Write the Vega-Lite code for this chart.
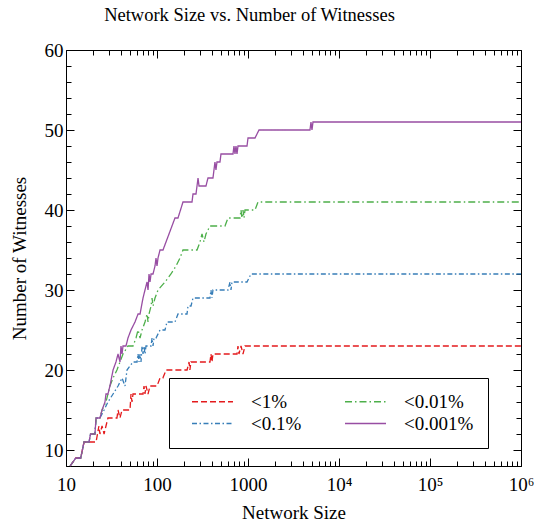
{
  "$schema": "https://vega.github.io/schema/vega-lite/v6.json",
  "autosize": "none",
  "width": 455,
  "height": 416,
  "padding": {"left": 66, "top": 50, "right": 13, "bottom": 55},
  "background": "white",
  "title": {"text": "Network Size vs. Number of Witnesses", "font": "'Liberation Serif', 'Times New Roman', Times, serif", "fontSize": 18.5, "fontWeight": "normal", "color": "black", "anchor": "middle", "dx": -44, "offset": 17},
  "config": {
    "view": {"stroke": null},
    "axis": {"grid": false, "domainColor": "black", "domainWidth": 1, "tickColor": "black", "tickWidth": 1, "labelFont": "'Liberation Serif', 'Times New Roman', Times, serif", "labelFontSize": 19, "labelColor": "black", "titleFont": "'Liberation Serif', 'Times New Roman', Times, serif", "titleFontSize": 19, "titleFontWeight": "normal", "titleColor": "black", "labelOverlap": false, "labelBound": false, "labelFlush": false}
  },
  "datasets": {
    "pts": [
      {"s": "<1%", "n": 11.1, "w": 8}, {"s": "<1%", "n": 12.8, "w": 9}, {"s": "<1%", "n": 14.5, "w": 9}, {"s": "<1%", "n": 15.8, "w": 11}, {"s": "<1%", "n": 21.4, "w": 11}, {"s": "<1%", "n": 23, "w": 13}, {"s": "<1%", "n": 23.6, "w": 12}, {"s": "<1%", "n": 24.9, "w": 13}, {"s": "<1%", "n": 26.2, "w": 12}, {"s": "<1%", "n": 27.5, "w": 13}, {"s": "<1%", "n": 28.9, "w": 14}, {"s": "<1%", "n": 36.3, "w": 14}, {"s": "<1%", "n": 37.3, "w": 15}, {"s": "<1%", "n": 39.2, "w": 14}, {"s": "<1%", "n": 41.3, "w": 15}, {"s": "<1%", "n": 50.5, "w": 15}, {"s": "<1%", "n": 51.8, "w": 17}, {"s": "<1%", "n": 53.1, "w": 16}, {"s": "<1%", "n": 54.5, "w": 17}, {"s": "<1%", "n": 70.2, "w": 17}, {"s": "<1%", "n": 72, "w": 18}, {"s": "<1%", "n": 73.8, "w": 17}, {"s": "<1%", "n": 75.7, "w": 18}, {"s": "<1%", "n": 79.7, "w": 17}, {"s": "<1%", "n": 83.8, "w": 18}, {"s": "<1%", "n": 100, "w": 18}, {"s": "<1%", "n": 108, "w": 19}, {"s": "<1%", "n": 116, "w": 19}, {"s": "<1%", "n": 126, "w": 20}, {"s": "<1%", "n": 214, "w": 20}, {"s": "<1%", "n": 225, "w": 21}, {"s": "<1%", "n": 230, "w": 20}, {"s": "<1%", "n": 236, "w": 21}, {"s": "<1%", "n": 382, "w": 21}, {"s": "<1%", "n": 392, "w": 22}, {"s": "<1%", "n": 402, "w": 21}, {"s": "<1%", "n": 412, "w": 22}, {"s": "<1%", "n": 757, "w": 22}, {"s": "<1%", "n": 776, "w": 23}, {"s": "<1%", "n": 796, "w": 22}, {"s": "<1%", "n": 838, "w": 23}, {"s": "<1%", "n": 881, "w": 22}, {"s": "<1%", "n": 927, "w": 23}, {"s": "<1%", "n": 1000000, "w": 23},

      {"s": "<0.1%", "n": 11.1, "w": 8}, {"s": "<0.1%", "n": 12.8, "w": 9}, {"s": "<0.1%", "n": 14.5, "w": 9}, {"s": "<0.1%", "n": 15.8, "w": 11}, {"s": "<0.1%", "n": 17.9, "w": 11}, {"s": "<0.1%", "n": 18.6, "w": 12}, {"s": "<0.1%", "n": 20.8, "w": 12}, {"s": "<0.1%", "n": 21.4, "w": 14}, {"s": "<0.1%", "n": 23.6, "w": 14}, {"s": "<0.1%", "n": 26.2, "w": 15}, {"s": "<0.1%", "n": 28.9, "w": 16}, {"s": "<0.1%", "n": 32.9, "w": 17}, {"s": "<0.1%", "n": 37.3, "w": 18}, {"s": "<0.1%", "n": 41.3, "w": 19}, {"s": "<0.1%", "n": 44.5, "w": 18}, {"s": "<0.1%", "n": 46.8, "w": 20}, {"s": "<0.1%", "n": 54.5, "w": 21}, {"s": "<0.1%", "n": 60.3, "w": 21}, {"s": "<0.1%", "n": 61.9, "w": 22}, {"s": "<0.1%", "n": 63.4, "w": 21}, {"s": "<0.1%", "n": 65.1, "w": 22}, {"s": "<0.1%", "n": 66.7, "w": 21}, {"s": "<0.1%", "n": 68.5, "w": 23}, {"s": "<0.1%", "n": 70.2, "w": 22}, {"s": "<0.1%", "n": 72, "w": 23}, {"s": "<0.1%", "n": 73.8, "w": 22}, {"s": "<0.1%", "n": 75.7, "w": 23}, {"s": "<0.1%", "n": 86, "w": 23}, {"s": "<0.1%", "n": 88.2, "w": 24}, {"s": "<0.1%", "n": 90.4, "w": 23}, {"s": "<0.1%", "n": 92.7, "w": 24}, {"s": "<0.1%", "n": 97.5, "w": 24}, {"s": "<0.1%", "n": 107.9, "w": 25}, {"s": "<0.1%", "n": 122.4, "w": 25}, {"s": "<0.1%", "n": 128.8, "w": 26}, {"s": "<0.1%", "n": 157.6, "w": 26}, {"s": "<0.1%", "n": 170.1, "w": 27}, {"s": "<0.1%", "n": 213.6, "w": 27}, {"s": "<0.1%", "n": 219.1, "w": 28}, {"s": "<0.1%", "n": 236.4, "w": 28}, {"s": "<0.1%", "n": 248.7, "w": 29}, {"s": "<0.1%", "n": 382, "w": 29}, {"s": "<0.1%", "n": 391.7, "w": 30}, {"s": "<0.1%", "n": 401.8, "w": 29}, {"s": "<0.1%", "n": 412.1, "w": 30}, {"s": "<0.1%", "n": 602.6, "w": 30}, {"s": "<0.1%", "n": 633.9, "w": 31}, {"s": "<0.1%", "n": 650.1, "w": 30}, {"s": "<0.1%", "n": 666.8, "w": 31}, {"s": "<0.1%", "n": 975.2, "w": 31}, {"s": "<0.1%", "n": 1079, "w": 32}, {"s": "<0.1%", "n": 1000000, "w": 32},

      {"s": "<0.01%", "n": 11.1, "w": 8}, {"s": "<0.01%", "n": 12.8, "w": 9}, {"s": "<0.01%", "n": 14.5, "w": 9}, {"s": "<0.01%", "n": 15.8, "w": 11}, {"s": "<0.01%", "n": 17.9, "w": 11}, {"s": "<0.01%", "n": 18.6, "w": 12}, {"s": "<0.01%", "n": 20.8, "w": 12}, {"s": "<0.01%", "n": 21.4, "w": 14}, {"s": "<0.01%", "n": 23.6, "w": 14}, {"s": "<0.01%", "n": 24.9, "w": 15}, {"s": "<0.01%", "n": 27.5, "w": 16}, {"s": "<0.01%", "n": 30.4, "w": 18}, {"s": "<0.01%", "n": 32.9, "w": 19}, {"s": "<0.01%", "n": 36.3, "w": 20}, {"s": "<0.01%", "n": 39.2, "w": 21}, {"s": "<0.01%", "n": 42.3, "w": 22}, {"s": "<0.01%", "n": 48, "w": 23}, {"s": "<0.01%", "n": 54.5, "w": 23}, {"s": "<0.01%", "n": 58.8, "w": 24}, {"s": "<0.01%", "n": 61.9, "w": 25}, {"s": "<0.01%", "n": 65.1, "w": 24}, {"s": "<0.01%", "n": 68.5, "w": 25}, {"s": "<0.01%", "n": 73.8, "w": 26}, {"s": "<0.01%", "n": 77.7, "w": 27}, {"s": "<0.01%", "n": 79.7, "w": 26}, {"s": "<0.01%", "n": 81.7, "w": 27}, {"s": "<0.01%", "n": 86, "w": 28}, {"s": "<0.01%", "n": 88.2, "w": 29}, {"s": "<0.01%", "n": 90.4, "w": 28}, {"s": "<0.01%", "n": 95.1, "w": 29}, {"s": "<0.01%", "n": 102.6, "w": 30}, {"s": "<0.01%", "n": 122.4, "w": 31}, {"s": "<0.01%", "n": 142.4, "w": 32}, {"s": "<0.01%", "n": 161.7, "w": 33}, {"s": "<0.01%", "n": 178.9, "w": 34}, {"s": "<0.01%", "n": 193, "w": 35}, {"s": "<0.01%", "n": 275.2, "w": 35}, {"s": "<0.01%", "n": 297, "w": 36}, {"s": "<0.01%", "n": 312.4, "w": 37}, {"s": "<0.01%", "n": 328.2, "w": 36}, {"s": "<0.01%", "n": 345.3, "w": 37}, {"s": "<0.01%", "n": 382, "w": 38}, {"s": "<0.01%", "n": 558.5, "w": 38}, {"s": "<0.01%", "n": 602.6, "w": 39}, {"s": "<0.01%", "n": 816.7, "w": 39}, {"s": "<0.01%", "n": 837.6, "w": 40}, {"s": "<0.01%", "n": 859.1, "w": 39}, {"s": "<0.01%", "n": 881.2, "w": 40}, {"s": "<0.01%", "n": 903.8, "w": 39}, {"s": "<0.01%", "n": 926.9, "w": 40}, {"s": "<0.01%", "n": 1194, "w": 40}, {"s": "<0.01%", "n": 1288, "w": 41}, {"s": "<0.01%", "n": 1000000, "w": 41},

      {"s": "<0.001%", "n": 11.1, "w": 8}, {"s": "<0.001%", "n": 12.8, "w": 9}, {"s": "<0.001%", "n": 14.5, "w": 9}, {"s": "<0.001%", "n": 15.8, "w": 11}, {"s": "<0.001%", "n": 17.9, "w": 11}, {"s": "<0.001%", "n": 18.6, "w": 12}, {"s": "<0.001%", "n": 20.8, "w": 12}, {"s": "<0.001%", "n": 21.4, "w": 14}, {"s": "<0.001%", "n": 23.6, "w": 14}, {"s": "<0.001%", "n": 24.9, "w": 15}, {"s": "<0.001%", "n": 26.8, "w": 16}, {"s": "<0.001%", "n": 27.5, "w": 17}, {"s": "<0.001%", "n": 28.9, "w": 17}, {"s": "<0.001%", "n": 30.4, "w": 18}, {"s": "<0.001%", "n": 32.9, "w": 20}, {"s": "<0.001%", "n": 35.4, "w": 21}, {"s": "<0.001%", "n": 37.3, "w": 22}, {"s": "<0.001%", "n": 39.2, "w": 21}, {"s": "<0.001%", "n": 40.2, "w": 23}, {"s": "<0.001%", "n": 41.3, "w": 22}, {"s": "<0.001%", "n": 42.3, "w": 23}, {"s": "<0.001%", "n": 45.6, "w": 23}, {"s": "<0.001%", "n": 48, "w": 24}, {"s": "<0.001%", "n": 51.8, "w": 25}, {"s": "<0.001%", "n": 57.3, "w": 26}, {"s": "<0.001%", "n": 61.9, "w": 27}, {"s": "<0.001%", "n": 65.1, "w": 27}, {"s": "<0.001%", "n": 70.2, "w": 29}, {"s": "<0.001%", "n": 73.8, "w": 30}, {"s": "<0.001%", "n": 77.7, "w": 31}, {"s": "<0.001%", "n": 79.7, "w": 30}, {"s": "<0.001%", "n": 81.7, "w": 32}, {"s": "<0.001%", "n": 83.8, "w": 31}, {"s": "<0.001%", "n": 86, "w": 32}, {"s": "<0.001%", "n": 90.4, "w": 32}, {"s": "<0.001%", "n": 95.1, "w": 33}, {"s": "<0.001%", "n": 97.5, "w": 34}, {"s": "<0.001%", "n": 100, "w": 33}, {"s": "<0.001%", "n": 102.6, "w": 34}, {"s": "<0.001%", "n": 107.9, "w": 35}, {"s": "<0.001%", "n": 116.4, "w": 35}, {"s": "<0.001%", "n": 157.6, "w": 39}, {"s": "<0.001%", "n": 170.1, "w": 39}, {"s": "<0.001%", "n": 193, "w": 41}, {"s": "<0.001%", "n": 242.5, "w": 41}, {"s": "<0.001%", "n": 248.7, "w": 42}, {"s": "<0.001%", "n": 268.3, "w": 42}, {"s": "<0.001%", "n": 275.2, "w": 43}, {"s": "<0.001%", "n": 282.3, "w": 44}, {"s": "<0.001%", "n": 289.5, "w": 43}, {"s": "<0.001%", "n": 345.3, "w": 43}, {"s": "<0.001%", "n": 363.2, "w": 44}, {"s": "<0.001%", "n": 412.1, "w": 44}, {"s": "<0.001%", "n": 422.7, "w": 45}, {"s": "<0.001%", "n": 433.6, "w": 46}, {"s": "<0.001%", "n": 444.6, "w": 45}, {"s": "<0.001%", "n": 456, "w": 46}, {"s": "<0.001%", "n": 492, "w": 46}, {"s": "<0.001%", "n": 504.7, "w": 47}, {"s": "<0.001%", "n": 683.9, "w": 47}, {"s": "<0.001%", "n": 701.5, "w": 48}, {"s": "<0.001%", "n": 719.5, "w": 47}, {"s": "<0.001%", "n": 737.9, "w": 48}, {"s": "<0.001%", "n": 756.9, "w": 47}, {"s": "<0.001%", "n": 776.3, "w": 48}, {"s": "<0.001%", "n": 975.2, "w": 48}, {"s": "<0.001%", "n": 1000, "w": 49}, {"s": "<0.001%", "n": 1194, "w": 49}, {"s": "<0.001%", "n": 1321, "w": 50}, {"s": "<0.001%", "n": 4797, "w": 50}, {"s": "<0.001%", "n": 4920, "w": 51}, {"s": "<0.001%", "n": 5047, "w": 50}, {"s": "<0.001%", "n": 5176, "w": 51}, {"s": "<0.001%", "n": 1000000, "w": 51}
    ]
  },
  "data": {"name": "pts"},
  "resolve": {"axis": {"x": "independent", "y": "independent"}},
  "layer": [
    {
      "mark": {"type": "line", "strokeWidth": 1.3, "interpolate": "linear"},
      "encoding": {
        "x": {"field": "n", "type": "quantitative",
          "scale": {"type": "log", "domain": [10, 1000000], "nice": false},
          "axis": {"orient": "bottom", "title": "Network Size", "titlePadding": 6,
            "values": [10,20,30,40,50,60,70,80,90,100,200,300,400,500,600,700,800,900,1000,2000,3000,4000,5000,6000,7000,8000,9000,10000,20000,30000,40000,50000,60000,70000,80000,90000,100000,200000,300000,400000,500000,600000,700000,800000,900000,1000000],
            "labelExpr": "datum.value == 10 ? '10' : datum.value == 100 ? '100' : datum.value == 1000 ? '1000' : datum.value == 10000 ? '10⁴' : datum.value == 100000 ? '10⁵' : datum.value == 1000000 ? '10⁶' : ''",
            "tickSize": {"condition": {"test": "indexof([10,100,1000,10000,100000,1000000], datum.value) >= 0", "value": -8}, "value": -5},
            "labelPadding": 17}},
        "y": {"field": "w", "type": "quantitative",
          "scale": {"domain": [8, 60], "nice": false, "zero": false},
          "axis": {"orient": "left", "title": "Number of Witnesses", "titlePadding": 15,
            "values": [8,10,12,14,16,18,20,22,24,26,28,30,32,34,36,38,40,42,44,46,48,50,52,54,56,58,60],
            "labelExpr": "datum.value % 10 === 0 ? datum.label : ''",
            "tickSize": {"condition": {"test": "datum.value % 10 === 0", "value": -8}, "value": -5},
            "labelPadding": 11}},
        "color": {"field": "s", "type": "nominal",
          "scale": {"domain": ["<1%", "<0.01%", "<0.1%", "<0.001%"], "range": ["#e41a1c", "#4daf4a", "#377eb8", "#984ea3"]},
          "legend": {"title": null, "orient": "none", "legendX": 103, "legendY": 328, "columns": 2, "direction": "horizontal",
            "symbolType": "stroke", "symbolSize": 1681, "symbolStrokeWidth": 1.3, "clipHeight": 19, "symbolOffset": 8,
            "labelFont": "'Liberation Serif', 'Times New Roman', Times, serif", "labelFontSize": 19, "labelColor": "black", "labelOffset": 17,
            "columnPadding": 34, "rowPadding": 2, "padding": 14, "strokeColor": "black", "fillColor": "white"}},
        "strokeDash": {"field": "s", "type": "nominal",
          "scale": {"domain": ["<1%", "<0.01%", "<0.1%", "<0.001%"], "range": [[6, 3], [7, 3, 1.5, 3], [5, 2.5, 1.5, 2.5], [1, 0]]},
          "legend": {"title": null, "orient": "none", "legendX": 103, "legendY": 328, "columns": 2, "direction": "horizontal",
            "symbolType": "stroke", "symbolSize": 1681, "symbolStrokeWidth": 1.3, "clipHeight": 19, "symbolOffset": 8,
            "labelFont": "'Liberation Serif', 'Times New Roman', Times, serif", "labelFontSize": 19, "labelColor": "black", "labelOffset": 17,
            "columnPadding": 34, "rowPadding": 2, "padding": 14, "strokeColor": "black", "fillColor": "white"}}
      }
    },
    {
      "mark": {"type": "line", "strokeOpacity": 0},
      "encoding": {
        "x": {"field": "n", "type": "quantitative",
          "scale": {"type": "log", "domain": [10, 1000000], "nice": false},
          "axis": {"orient": "top", "title": null, "labels": false,
            "values": [10,20,30,40,50,60,70,80,90,100,200,300,400,500,600,700,800,900,1000,2000,3000,4000,5000,6000,7000,8000,9000,10000,20000,30000,40000,50000,60000,70000,80000,90000,100000,200000,300000,400000,500000,600000,700000,800000,900000,1000000],
            "tickSize": {"condition": {"test": "indexof([10,100,1000,10000,100000,1000000], datum.value) >= 0", "value": -8}, "value": -5}}},
        "y": {"field": "w", "type": "quantitative",
          "scale": {"domain": [8, 60], "nice": false, "zero": false},
          "axis": {"orient": "right", "title": null, "labels": false,
            "values": [8,10,12,14,16,18,20,22,24,26,28,30,32,34,36,38,40,42,44,46,48,50,52,54,56,58,60],
            "tickSize": {"condition": {"test": "datum.value % 10 === 0", "value": -8}, "value": -5}}},
        "detail": {"field": "s", "type": "nominal"}
      }
    }
  ]
}
